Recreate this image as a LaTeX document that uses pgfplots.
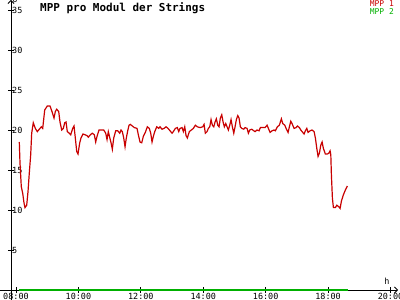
\documentclass[border=0pt]{standalone}
\usepackage{pgfplots}
\pgfplotsset{compat=1.18}
\usepackage{fontspec}
\setmainfont{DejaVu Sans Mono}
\usetikzlibrary{arrows.meta}
\definecolor{mppred}{RGB}{200,0,0}
\definecolor{mppgreen}{RGB}{0,176,0}
\begin{document}
\begin{tikzpicture}
\path[use as bounding box] (-11bp,-10bp) rectangle (389bp,290bp);
\begin{axis}[
  scale only axis, width=387bp, height=290bp,
  at={(0,0)}, anchor=south west,
  xmin=7.84, xmax=20.24, ymin=0, ymax=36.25,
  axis x line*=bottom, axis y line*=left,
  axis line style={line width=0.8bp, -{Straight Barb[length=3bp,width=6bp]}},
  xtick={8,10,12,14,16,18,20},
  xticklabels={08:00,10:00,12:00,14:00,16:00,18:00,20:00},
  ytick={5,10,15,20,25,30,35},
  tick align=center, major tick length=6bp,
  tick style={black, line width=0.8bp},
  ticklabel style={font=\fontsize{8.5}{9}\selectfont},
  yticklabel style={anchor=west, inner sep=1bp, xshift=3bp},
  xticklabel style={anchor=north, inner sep=0pt, yshift=0.3bp},
  /pgf/number format/assume math mode=true,
  clip=false,
]
\addplot[mppgreen, line width=1.2bp] coordinates {(8.1,0) (18.64,0)};
\addplot[mppred, line width=1.2bp] coordinates {
(8.106,18.5) (8.128,15.9) (8.170,12.9) (8.215,12.1) (8.256,10.9) (8.288,10.3)
(8.343,10.6) (8.385,12.3) (8.426,14.6) (8.471,16.9) (8.503,19.6) (8.554,20.9)
(8.619,20.2) (8.683,19.8) (8.769,20.2) (8.811,20.4) (8.856,20.2) (8.920,22.5)
(9.003,23.0) (9.090,23.0) (9.154,22.3) (9.218,21.5) (9.260,22.3) (9.304,22.6)
(9.369,22.3) (9.410,21.0) (9.465,20.0) (9.516,20.2) (9.561,20.9) (9.603,21.0)
(9.644,19.8) (9.708,19.6) (9.753,19.4) (9.817,20.2) (9.859,20.5) (9.901,19.0)
(9.946,17.3) (9.987,17.0) (10.042,18.4) (10.083,19.0) (10.147,19.5) (10.212,19.4)
(10.276,19.3) (10.317,19.1) (10.381,19.4) (10.446,19.6) (10.510,19.4) (10.554,18.5)
(10.596,19.2) (10.660,20.0) (10.747,20.0) (10.811,20.0) (10.875,19.6) (10.917,18.8)
(10.958,19.8) (11.045,18.4) (11.087,17.6) (11.131,19.0) (11.196,19.9) (11.260,19.9)
(11.324,19.6) (11.365,20.0) (11.407,19.8) (11.452,19.0) (11.494,17.9) (11.535,19.0)
(11.580,19.9) (11.622,20.6) (11.663,20.7) (11.728,20.5) (11.792,20.3) (11.878,20.2)
(11.920,19.4) (11.974,18.5) (12.029,18.4) (12.080,19.2) (12.144,19.7) (12.208,20.4)
(12.272,20.2) (12.317,19.6) (12.359,18.5) (12.401,19.2) (12.446,19.8) (12.510,20.4)
(12.574,20.2) (12.615,20.4) (12.679,20.1) (12.744,20.2) (12.808,20.4) (12.872,20.2)
(12.936,19.9) (13.000,19.6) (13.042,19.8) (13.106,20.2) (13.170,20.3) (13.215,19.8)
(13.256,20.2) (13.321,20.3) (13.362,19.8) (13.407,20.4) (13.449,19.3) (13.490,19.0)
(13.554,19.8) (13.619,20.0) (13.683,20.2) (13.747,20.6) (13.811,20.4) (13.897,20.3)
(13.984,20.4) (14.026,20.7) (14.067,19.6) (14.122,19.8) (14.163,20.2) (14.208,20.4)
(14.250,21.3) (14.292,20.6) (14.337,20.4) (14.378,21.0) (14.420,21.4) (14.465,20.6)
(14.506,20.4) (14.548,21.5) (14.593,21.9) (14.635,21.0) (14.676,20.4) (14.721,20.8)
(14.763,20.4) (14.804,20.0) (14.849,20.6) (14.891,21.3) (14.933,20.4) (14.978,19.6)
(15.019,20.4) (15.061,21.3) (15.106,21.8) (15.147,21.5) (15.189,20.4) (15.234,20.2)
(15.298,20.1) (15.340,20.3) (15.404,20.2) (15.446,19.6) (15.490,20.0) (15.554,20.1)
(15.619,19.9) (15.660,19.8) (15.724,20.0) (15.788,19.9) (15.830,20.3) (15.894,20.3)
(15.981,20.3) (16.045,20.6) (16.087,20.2) (16.141,19.7) (16.205,19.9) (16.269,20.0)
(16.311,19.9) (16.375,20.4) (16.439,20.6) (16.503,21.4) (16.548,20.8) (16.612,20.6)
(16.654,20.2) (16.718,19.7) (16.760,20.4) (16.804,21.1) (16.846,20.8) (16.910,20.2)
(16.974,20.3) (17.016,20.5) (17.080,20.3) (17.125,20.0) (17.189,19.7) (17.231,19.5)
(17.272,19.9) (17.317,20.2) (17.359,19.7) (17.423,19.9) (17.487,20.0) (17.551,19.8)
(17.593,19.0) (17.638,17.7) (17.679,16.7) (17.721,17.1) (17.766,18.1) (17.808,18.5)
(17.849,17.7) (17.913,17.0) (17.978,17.0) (18.022,17.1) (18.064,17.4) (18.087,16.9)
(18.106,14.4) (18.138,11.5) (18.170,10.3) (18.234,10.3) (18.279,10.6) (18.343,10.4)
(18.385,10.2) (18.426,11.1) (18.490,11.9) (18.554,12.5) (18.619,13.0)
};
\end{axis}
\draw[line width=0.8bp] (-11bp,0) -- (0,0);
\draw[line width=0.8bp] (0,0) -- (0,-10bp);
\node[anchor=base west, inner sep=0pt, font=\bfseries\fontsize{11}{12}\selectfont] at (29bp,278bp) {MPP pro Modul der Strings};
\node[anchor=base east, inner sep=0pt, text=mppred, font=\fontsize{8}{9}\selectfont] at (383bp,283bp) {MPP 1};
\node[anchor=base east, inner sep=0pt, text=mppgreen, font=\fontsize{8}{9}\selectfont] at (383bp,275bp) {MPP 2};
\node[anchor=base, inner sep=0pt, font=\fontsize{8.5}{9}\selectfont] at (376bp,6bp) {h};
\node[anchor=base west, inner sep=0pt, font=\fontsize{8}{9}\selectfont] at (1.5bp,287bp) {U};
\end{tikzpicture}
\end{document}
